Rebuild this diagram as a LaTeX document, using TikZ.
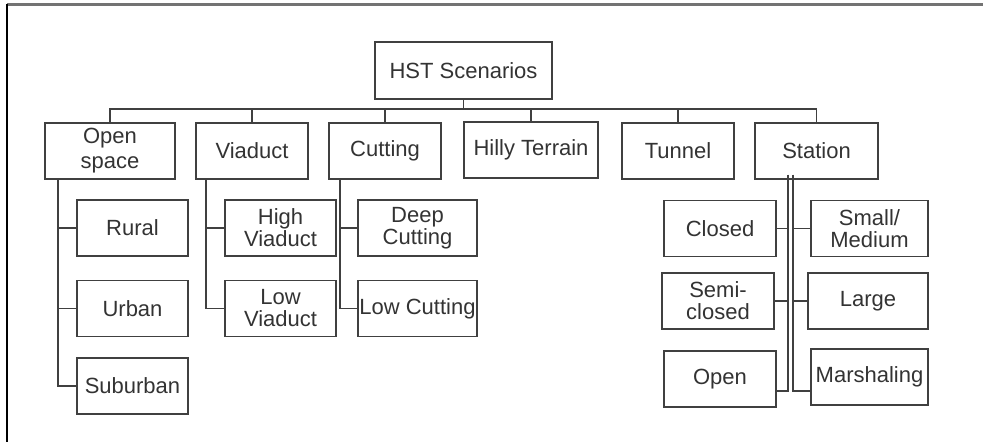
\documentclass[tikz,border=0pt]{standalone}
\usepackage{fontspec}
\setmainfont{Liberation Sans}
\begin{document}
\begin{tikzpicture}[
  x=0.5pt, y=-0.5pt,
  box/.style={draw=black!75, line width=0.8pt, minimum height=28pt,
              inner sep=0pt, align=center, text=black!80,
              font=\fontsize{11}{11}\selectfont},
  rootbox/.style={box, minimum width=88.5pt, minimum height=28.5pt},
  cat/.style={box, minimum width=56pt},
  leaf/.style={box, minimum width=55.5pt},
  link/.style={draw=black!75, line width=0.8pt},
]
\useasboundingbox (0,0) rectangle (983,442);
% --- frame (top and left edge) ---
\draw[black!55, line width=1.2pt] (7,4.5) -- (983,4.5);
\draw[black, line width=0.6pt] (7,4.5) -- (7,442);
% --- Root ---
\node[rootbox] (root) at (463.5,70.5) {HST Scenarios};
% --- Categories (row 1) ---
\node[cat, minimum width=65pt, font=\fontsize{11}{12.5}\selectfont]
                                 (open) at (110,151)   {Open\\space};
\node[cat]                       (via)  at (252,151)   {Viaduct};
\node[cat]                       (cut)  at (385,151)   {Cutting};
\node[cat, minimum width=67pt]   (hill) at (531,150)   {Hilly Terrain};
\node[cat]                       (tun)  at (678,151)   {Tunnel};
\node[cat, minimum width=61.5pt] (sta)  at (816.5,151) {Station};
\coordinate (bus) at (463.5,109);
\draw[link] (root) -- (bus);
\foreach \n in {open,via,cut,hill,tun,sta} { \draw[link] (bus) -| (\n.north); }
% --- Open space ---
\node[leaf] (rur) at (132.5,228)   {Rural};
\node[leaf] (urb) at (132.5,308.5) {Urban};
\node[leaf] (sbb) at (132.5,386)   {Suburban};
\foreach \n in {rur,urb,sbb} { \draw[link] ([xshift=7pt]open.south west) |- (\n.west); }
% --- Viaduct ---
\node[leaf] (hvia) at (280.5,228)   {High\\Viaduct};
\node[leaf] (lvia) at (280.5,308.5) {Low\\Viaduct};
\foreach \n in {hvia,lvia} { \draw[link] ([xshift=5.5pt]via.south west) |- (\n.west); }
% --- Cutting ---
\node[leaf, minimum width=59.5pt] (dcut) at (417.5,228)   {Deep\\Cutting};
\node[leaf, minimum width=59.5pt] (lcut) at (417.5,308.5) {Low Cutting};
\foreach \n in {dcut,lcut} { \draw[link] ([xshift=6pt]cut.south west) |- (\n.west); }
% --- Station (double trunk) ---
\node[leaf, minimum width=56pt] (clo)  at (720,228.5) {Closed};
\node[leaf, minimum width=56pt] (semi) at (718,301)   {Semi-\\closed};
\node[leaf, minimum width=56pt] (opn)  at (720,379)   {Open};
\node[leaf, minimum width=58.5pt] (small) at (869.5,228.5) {Small/\\Medium};
\node[leaf, minimum width=60pt]   (large) at (868,301)     {Large};
\node[leaf, minimum width=58.5pt] (mars)  at (869.5,377)   {Marshaling};
\coordinate (sl) at (788,175);
\coordinate (sr) at (793,175);
\foreach \n in {clo,semi} { \draw[link] (sl) |- (\n.east); }
\draw[link] (sl) |- ([yshift=-6pt]opn.east);
\foreach \n in {small,large} { \draw[link] (sr) |- (\n.west); }
\draw[link] (sr) |- ([yshift=-7pt]mars.west);
\end{tikzpicture}
\end{document}
